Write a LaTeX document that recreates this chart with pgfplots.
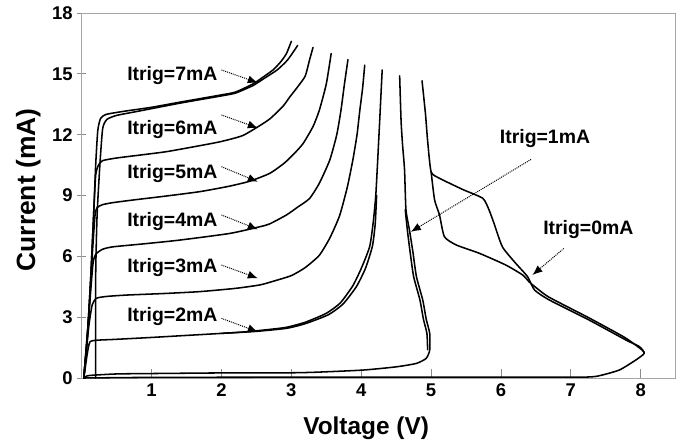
\documentclass[border=0pt]{standalone}
\usepackage{pgfplots}
\pgfplotsset{compat=1.18}
\usepackage{fontspec}
\setmainfont{Liberation Sans}
\usetikzlibrary{arrows.meta}
\tikzset{
  curve/.style={black, line width=1.55pt, line join=round, line cap=round, mark=none, smooth, tension=0.35},
  ann/.style={black, line width=1pt, densely dotted, -{Latex[length=10bp,width=8bp]}},
  lab/.style={font=\bfseries\fontsize{19.5}{19.5}\selectfont},
}
\begin{document}
\begin{tikzpicture}
\begin{axis}[
  at={(0,0)}, anchor=south west,
  scale only axis, width=594bp, height=365bp,
  xmin=0, xmax=8.5, ymin=0, ymax=18,
  xtick={1,2,3,4,5,6,7,8}, ytick={0,3,6,9,12,15,18},
  clip=false,
  axis line style={black!35, line width=0.8pt},
  every tick/.style={black!45, line width=0.8pt},
  xtick align=inside, ytick align=center,
  major tick length=9bp,
  xtick pos=bottom, ytick pos=left,
  tick label style={font=\bfseries\fontsize{18.5}{18.5}\selectfont},
  /pgf/number format/assume math mode=true,
  xticklabel style={yshift=-2.5bp},
  yticklabel style={xshift=-1bp},
]
% Itrig = 7 mA (two traces)
\addplot[curve] coordinates {(0.03,0) (0.08,2) (0.13,5) (0.17,8) (0.2,10.5) (0.23,12.2) (0.27,12.8) (0.35,13.0) (0.6,13.15) (1.0,13.35) (1.4,13.6) (1.98,13.95) (2.2,14.1) (2.45,14.5) (2.6,14.85) (2.74,15.2) (2.85,15.6) (2.93,16.0) (3.0,16.6)};
\addplot[curve] coordinates {(0.2,0) (0.2,5) (0.22,8) (0.26,10.5) (0.3,12.3) (0.36,12.75) (0.5,12.95) (0.8,13.15) (1.4,13.55) (1.98,13.9) (2.2,14.05) (2.45,14.42) (2.6,14.75) (2.8,15.2) (2.95,15.7) (3.09,16.4)};
% 6 mA
\addplot[curve] coordinates {(0.03,0) (0.08,2) (0.13,5) (0.17,8) (0.2,10.0) (0.24,10.5) (0.3,10.72) (0.5,10.85) (0.85,11.0) (1.21,11.16) (1.6,11.4) (1.98,11.65) (2.3,11.95) (2.55,12.45) (2.7,12.8) (2.88,13.4) (2.98,13.87) (3.1,14.4) (3.2,14.9) (3.26,15.68) (3.31,16.3)};
% 5 mA
\addplot[curve] coordinates {(0.03,0) (0.1,3) (0.15,6) (0.19,8.0) (0.22,8.4) (0.3,8.55) (0.45,8.65) (0.74,8.78) (1.2,8.97) (1.69,9.19) (2.1,9.45) (2.4,9.7) (2.69,10.09) (2.9,10.6) (3.05,11.1) (3.17,11.57) (3.31,12.4) (3.4,13.2) (3.5,14.5) (3.57,16.0)};
% 4 mA
\addplot[curve] coordinates {(0.03,0) (0.1,3) (0.16,5.6) (0.2,6.1) (0.3,6.35) (0.45,6.47) (0.9,6.62) (1.4,6.8) (2.12,7.13) (2.55,7.46) (2.69,7.6) (2.93,8.04) (3.1,8.45) (3.26,8.85) (3.4,9.6) (3.55,10.75) (3.65,12.0) (3.71,13.2) (3.76,14.5) (3.81,15.7)};
% 3 mA
\addplot[curve] coordinates {(0.03,0) (0.1,2.5) (0.15,3.6) (0.21,3.93) (0.35,4.02) (0.64,4.09) (1.2,4.17) (1.69,4.26) (2.2,4.42) (2.55,4.59) (2.75,4.78) (3.0,5.05) (3.2,5.45) (3.4,6.05) (3.55,6.9) (3.69,8.0) (3.8,9.4) (3.88,10.75) (3.94,12.0) (3.98,13.2) (4.02,14.3) (4.05,15.43)};
% 2 mA (two traces)
\addplot[curve] coordinates {(0.03,0) (0.08,1.2) (0.12,1.79) (0.25,1.87) (0.45,1.9) (1.0,2.0) (1.4,2.08) (2.0,2.2) (2.36,2.28) (2.7,2.4) (2.93,2.5) (3.2,2.75) (3.5,3.19) (3.7,3.7) (3.88,4.55) (4.0,5.4) (4.12,6.47) (4.17,7.63) (4.21,9.1) (4.26,12.39) (4.28,13.8) (4.3,15.19)};
\addplot[curve] coordinates {(2.0,2.2) (2.5,2.3) (2.93,2.45) (3.2,2.68) (3.53,3.12) (3.74,3.65) (3.93,4.5) (4.06,5.4) (4.16,6.5) (4.2,7.6) (4.22,9.0)};
% 1 mA (two traces)
\addplot[curve] coordinates {(0.03,0) (0.1,0.12) (0.5,0.2) (1.0,0.22) (2.0,0.25) (2.83,0.25) (3.31,0.28) (4.02,0.39) (4.5,0.55) (4.79,0.72) (4.93,0.97) (4.98,1.38) (4.98,2.2) (4.93,2.9) (4.88,3.85) (4.79,5.0) (4.74,6.2) (4.69,7.3) (4.64,8.3) (4.62,10.26) (4.59,11.57) (4.57,12.7) (4.55,14.9)};
\addplot[curve] coordinates {(4.95,1.4) (4.94,2.2) (4.89,2.9) (4.84,3.85) (4.75,5.0) (4.7,6.2) (4.66,7.3) (4.63,8.3)};
% 0 mA (two traces)
\addplot[curve] coordinates {(0.03,0) (1,0.03) (3,0.04) (5,0.04) (7,0.04) (7.36,0.08) (7.69,0.39) (7.93,0.89) (8.05,1.22) (7.98,1.55) (7.79,1.87) (7.26,2.86) (6.69,3.85) (6.48,4.34) (6.38,5.0) (6.21,5.66) (6.02,6.47) (5.9,7.63) (5.83,8.28) (5.74,8.86) (5.45,9.3) (5.12,9.85) (5.0,10.17) (4.95,11.7) (4.92,13.0) (4.87,14.66)};
\addplot[curve] coordinates {(8.05,1.22) (8.02,1.38) (7.77,2.0) (7.24,3.0) (6.68,4.0) (6.45,4.6) (6.4,4.75) (6.31,5.08) (6.07,5.57) (5.69,6.15) (5.36,6.56) (5.19,6.97) (5.12,8.04) (5.05,8.78) (5.0,10.17)};

% annotations
\node[lab] at (axis cs:1.297,14.94) {Itrig=7mA};
\draw[ann] (axis cs:2.0,15.19) -- (axis cs:2.52,14.56);
\node[lab] at (axis cs:1.297,12.23) {Itrig=6mA};
\draw[ann] (axis cs:2.0,12.97) -- (axis cs:2.52,12.33);
\node[lab] at (axis cs:1.297,10.06) {Itrig=5mA};
\draw[ann] (axis cs:2.0,10.42) -- (axis cs:2.52,9.68);
\node[lab] at (axis cs:1.297,7.72) {Itrig=4mA};
\draw[ann] (axis cs:2.0,8.04) -- (axis cs:2.52,7.33);
\node[lab] at (axis cs:1.297,5.45) {Itrig=3mA};
\draw[ann] (axis cs:2.0,5.57) -- (axis cs:2.52,4.92);
\node[lab] at (axis cs:1.297,3.03) {Itrig=2mA};
\draw[ann] (axis cs:2.0,2.94) -- (axis cs:2.52,2.28);
\node[lab] at (axis cs:6.63,11.79) {Itrig=1mA};
\draw[ann] (axis cs:6.43,10.78) -- (axis cs:4.71,7.21);
\node[lab] at (axis cs:7.25,7.30) {Itrig=0mA};
\draw[ann] (axis cs:6.90,6.39) -- (axis cs:6.45,5.08);

% axis labels
\node[anchor=base, font=\bfseries\fontsize{24.5}{24.5}\selectfont] at (axis cs:4.07,-2.81) {Voltage (V)};
\node[anchor=base, rotate=90, font=\bfseries\fontsize{26.5}{26.5}\selectfont] at (axis cs:-0.667,9.27) {Current (mA)};
\end{axis}
\pgfresetboundingbox
\path[use as bounding box] (-81.7bp,-63bp) rectangle (599.3bp,378bp);
\end{tikzpicture}
\end{document}
